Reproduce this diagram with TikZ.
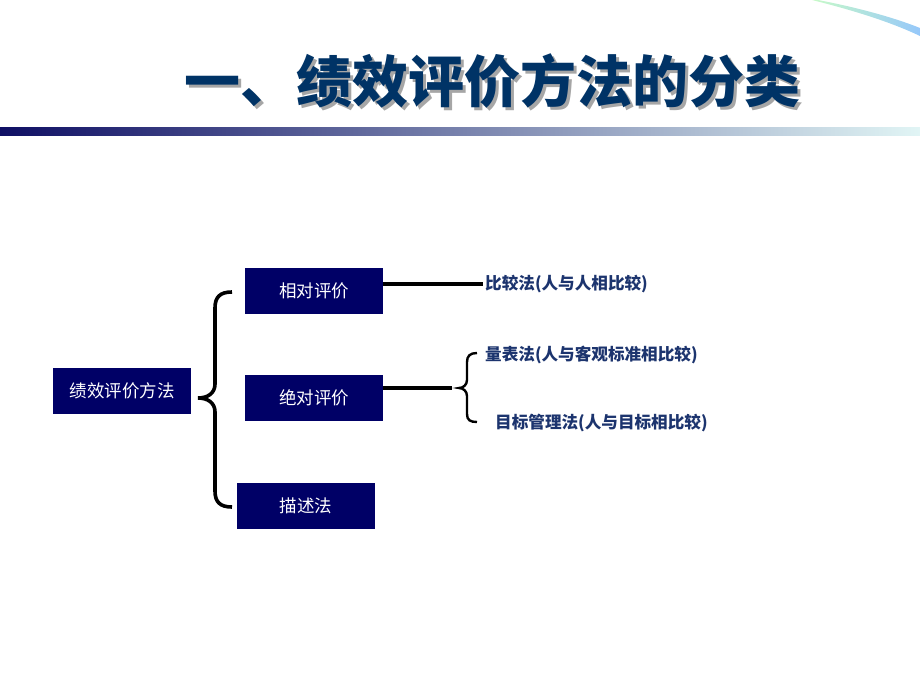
\documentclass[tikz,border=0pt]{standalone}
\usepackage{fontspec}
\setmainfont{Noto Sans CJK SC}
\newfontfamily\cjktitle{Noto Sans CJK SC}
\definecolor{boxnavy}{RGB}{0,0,102}
\definecolor{titleblue}{RGB}{0,51,102}
\definecolor{labelblue}{RGB}{28,52,110}
\definecolor{barleft}{RGB}{15,15,100}
\definecolor{barright}{RGB}{225,245,245}
\definecolor{arcgreen}{RGB}{200,250,200}
\definecolor{arcblue}{RGB}{150,200,250}
\newcommand{\mytitletext}{一、绩效评价方法的分类}
\begin{document}
\begin{tikzpicture}[x=1pt,y=-1pt,
  catbox/.style={fill=boxnavy, text=white, minimum width=138pt, minimum height=46pt, inner sep=0pt, font=\fontsize{17.5}{20}\selectfont},
  leaf/.style={anchor=west, inner sep=0pt, text=labelblue, font=\fontsize{16.6}{19}\selectfont\bfseries},
  conn/.style={line width=3.4pt, black},
  bigbrace/.style={line width=3.6pt, black},
  smallbrace/.style={line width=2.4pt, black}]
\useasboundingbox (0,0) rectangle (920,690);
% top-right arc
\shade[left color=arcgreen, right color=arcblue]
  (818,0) .. controls (860,8) and (895,18) .. (920,28) -- (920,36)
  .. controls (895,24) and (860,12) .. (812,0) -- cycle;
% title with shadow
\node[inner sep=0pt, font=\cjktitle\fontsize{56}{60}\selectfont\bfseries] (title) at (492,82)
  {\makebox[0pt][l]{\hspace{3pt}\raisebox{-3pt}{\textcolor{gray!70}{\mytitletext}}}\textcolor{titleblue}{\mytitletext}};
% gradient bar
\shade[left color=barleft, right color=barright] (0,127) rectangle (920,135);
% boxes
\node[catbox] (root) at (122,391) {绩效评价方法};
\node[catbox] (xd) at (314,291) {相对评价};
\node[catbox] (jd) at (314,398) {绝对评价};
\node[catbox] (ms) at (306,506) {描述法};
% big brace
\coordinate (bbtop) at (232,292);
\coordinate (bbtip) at (198,398);
\coordinate (bbbot) at (232,507);
\draw[bigbrace] (bbtop) .. controls (220,292) and (215,297) .. (215,308)
  -- (215,384) .. controls (215,393) and (208,398) .. (bbtip)
  .. controls (208,398) and (215,403) .. (215,412)
  -- (215,491) .. controls (215,502) and (220,507) .. (bbbot);
% leaves
\node[leaf] (bj) at (485,284) {比较法(人与人相比较)};
\node[leaf] (lb) at (485,355) {量表法(人与客观标准相比较)};
\node[leaf] (mb) at (495,423) {目标管理法(人与目标相比较)};
% connectors
\draw[conn] (xd.east |- bj.west) -- ([xshift=-2pt]bj.west);
\coordinate (sbtip) at (459,388);
\draw[conn] (jd.east |- sbtip) -- ([xshift=-7pt]sbtip);
% small brace
\draw[smallbrace] (477,353) .. controls (470,353) and (467,356) .. (467,362)
  -- (467,380) .. controls (467,385) and (463,388) .. (sbtip)
  .. controls (463,388) and (467,391) .. (467,396)
  -- (467,414) .. controls (467,420) and (470,422) .. (477,422);
\end{tikzpicture}
\end{document}
